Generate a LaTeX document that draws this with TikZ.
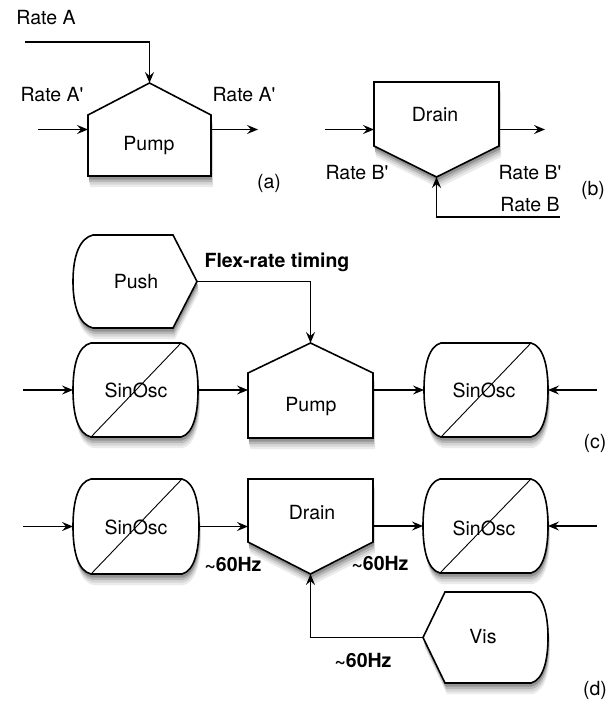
\documentclass[tikz,border=0pt]{standalone}
\usepackage{fontspec}
\setmainfont{TeX Gyre Heros}[Ligatures=TeXOff]
\usetikzlibrary{arrows.meta,calc}
\begin{document}
\begin{tikzpicture}[x=1pt,y=-1pt,
  every node/.style={font=\fontsize{19.5}{22}\selectfont},
  txt/.style={inner sep=0pt},
  btxt/.style={inner sep=0pt,font=\fontsize{19.5}{22}\selectfont\bfseries},
  hold/.style 2 args={inner sep=0pt,outer sep=0pt,minimum width=#1,minimum height=#2},
  outline/.style={draw,line width=1.6pt,fill=white,line join=miter},
  sh1/.style={fill=black!8},
  sh2/.style={fill=black!16},
  sh3/.style={fill=black!28},
  sh4/.style={fill=black!42},
  slash/.style={line width=0.9pt},
  arr/.style={line width=1.4pt,-{Stealth[length=11pt,width=9pt,inset=4pt]}},
]
\useasboundingbox (0,0) rectangle (615,702);

% ---------- frames (invisible nodes giving anchors) ----------
\node[hold={123pt}{93pt}] (pa) at (149.5,129.5) {};
\node[hold={125pt}{95pt}] (db) at (436.5,129.5) {};
\node[hold={124pt}{93pt}] (pu) at (135,281.5) {};
\node[hold={125pt}{94pt}] (sc1) at (135.5,390) {};
\node[hold={125pt}{95pt}] (pc) at (310.5,390.5) {};
\node[hold={124pt}{94pt}] (sc2) at (486,390) {};
\node[hold={126pt}{95pt}] (sd1) at (136,526.5) {};
\node[hold={125pt}{95pt}] (dd) at (310.5,526.5) {};
\node[hold={125pt}{94pt}] (sd2) at (485.5,526) {};
\node[hold={125pt}{91pt}] (vis) at (485.5,637.5) {};

% ---------- shadows (drawn as offset copies) ----------
\foreach \dx/\dy/\st in {2/11/sh1, 1.6/8.5/sh2, 1.2/6/sh3, 0.8/3.5/sh4}{
  \begin{scope}[shift={(\dx,\dy)}]
    \path[\st] (88,176) -- (88,115) -- (149.5,83) -- (211,115) -- (211,176) -- cycle;
    \path[\st] (374,82) -- (499,82) -- (499,146) -- (436.5,177) -- (374,146) -- cycle;
    \path[\st] (93,235) -- (173,235) -- (197,281.5) -- (173,328) -- (93,328)
      .. controls (80,325) and (73,308) .. (73,281.5)
      .. controls (73,255) and (80,238) .. (93,235) -- cycle;
    \path[\st] (91,343) -- (181,343) .. controls (193,346) and (198,365) .. (198,390)
      .. controls (198,415) and (193,434) .. (181,437) -- (91,437)
      .. controls (78,434) and (73,415) .. (73,390)
      .. controls (73,365) and (78,346) .. (91,343) -- cycle;
    \path[\st] (248,438) -- (248,373) -- (310.5,343) -- (373,373) -- (373,438) -- cycle;
    \path[\st] (441,343) -- (531,343) .. controls (543,346) and (548,365) .. (548,390)
      .. controls (548,415) and (543,434) .. (531,437) -- (441,437)
      .. controls (429,434) and (424,415) .. (424,390)
      .. controls (424,365) and (429,346) .. (441,343) -- cycle;
    \path[\st] (91,479) -- (182,479) .. controls (194,482) and (199,501) .. (199,526.5)
      .. controls (199,552) and (194,571) .. (182,574) -- (91,574)
      .. controls (78,571) and (73,552) .. (73,526.5)
      .. controls (73,501) and (78,482) .. (91,479) -- cycle;
    \path[\st] (248,479) -- (373,479) -- (373,542) -- (310.5,574) -- (248,542) -- cycle;
    \path[\st] (440,479) -- (531,479) .. controls (543,482) and (548,501) .. (548,526)
      .. controls (548,551) and (543,570) .. (531,573) -- (440,573)
      .. controls (428,570) and (423,551) .. (423,526)
      .. controls (423,501) and (428,482) .. (440,479) -- cycle;
    \path[\st] (423,637.5) -- (445,592) -- (531,592) .. controls (543,595) and (548,614) .. (548,637.5)
      .. controls (548,661) and (543,680) .. (531,683) -- (445,683) -- cycle;
  \end{scope}
}

% ---------- outlines ----------
\draw[outline] (88,176) -- (88,115) -- (149.5,83) -- (211,115) -- (211,176) -- cycle;
\draw[outline] (374,82) -- (499,82) -- (499,146) -- (436.5,177) -- (374,146) -- cycle;
\draw[outline] (93,235) -- (173,235) -- (197,281.5) -- (173,328) -- (93,328)
  .. controls (80,325) and (73,308) .. (73,281.5)
  .. controls (73,255) and (80,238) .. (93,235) -- cycle;
\draw[outline] (91,343) -- (181,343) .. controls (193,346) and (198,365) .. (198,390)
  .. controls (198,415) and (193,434) .. (181,437) -- (91,437)
  .. controls (78,434) and (73,415) .. (73,390)
  .. controls (73,365) and (78,346) .. (91,343) -- cycle;
\draw[slash] (91,437) -- (181,343);
\draw[outline] (248,438) -- (248,373) -- (310.5,343) -- (373,373) -- (373,438) -- cycle;
\draw[outline] (441,343) -- (531,343) .. controls (543,346) and (548,365) .. (548,390)
  .. controls (548,415) and (543,434) .. (531,437) -- (441,437)
  .. controls (429,434) and (424,415) .. (424,390)
  .. controls (424,365) and (429,346) .. (441,343) -- cycle;
\draw[slash] (441,437) -- (531,343);
\draw[outline] (91,479) -- (182,479) .. controls (194,482) and (199,501) .. (199,526.5)
  .. controls (199,552) and (194,571) .. (182,574) -- (91,574)
  .. controls (78,571) and (73,552) .. (73,526.5)
  .. controls (73,501) and (78,482) .. (91,479) -- cycle;
\draw[slash] (91,574) -- (182,479);
\draw[outline] (248,479) -- (373,479) -- (373,542) -- (310.5,574) -- (248,542) -- cycle;
\draw[outline] (440,479) -- (531,479) .. controls (543,482) and (548,501) .. (548,526)
  .. controls (548,551) and (543,570) .. (531,573) -- (440,573)
  .. controls (428,570) and (423,551) .. (423,526)
  .. controls (423,501) and (428,482) .. (440,479) -- cycle;
\draw[slash] (440,573) -- (531,479);
\draw[outline] (423,637.5) -- (445,592) -- (531,592) .. controls (543,595) and (548,614) .. (548,637.5)
  .. controls (548,661) and (543,680) .. (531,683) -- (445,683) -- cycle;

% ---------- texts ----------
\node[txt] (tpa) at (149,146) {Pump};
\node[txt] (tdb) at (435,115) {Drain};
\node[txt] (tpu) at (136,282) {Push};
\node[txt] (tsc1) at (136,390) {SinOsc};
\node[txt] (tpc) at (311,407) {Pump};
\node[txt] (tsc2) at (484,390) {SinOsc};
\node[txt] (tsd1) at (136,527) {SinOsc};
\node[txt] (tdd) at (312,513) {Drain};
\node[txt] (tsd2) at (484,528) {SinOsc};
\node[txt] (tvis) at (483,637) {Vis};

\node[txt] (la1) at (46,18) {Rate A};
\node[txt] (la2) at (52,95) {Rate A'};
\node[txt] (la3) at (244,95) {Rate A'};
\node[txt] (la4) at (269,183) {(a)};
\node[txt] (lb1) at (357,173) {Rate B'};
\node[txt] (lb2) at (530,173) {Rate B'};
\node[txt] (lb3) at (530,205) {Rate B};
\node[txt] (lb4) at (593,190) {(b)};
\node[btxt] (lc1) at (277,262) {Flex-rate timing};
\node[txt] (lc2) at (595,443) {(c)};
\node[btxt] (ld1) at (233,564) {{\char"7E}60Hz};
\node[btxt] (ld2) at (380,563) {{\char"7E}60Hz};
\node[btxt] (ld3) at (363,660) {{\char"7E}60Hz};
\node[txt] (ld4) at (595,690) {(d)};

% ---------- free ends ----------
\coordinate (ra) at (25,42);
\coordinate (ain) at (38,129.5);
\coordinate (aout) at (258,129.5);
\coordinate (bin) at (325,129.5);
\coordinate (bout) at (545,129.5);
\coordinate (rb) at (560,217);
\coordinate (cin) at (23,390);
\coordinate (cin2) at (597,390);
\coordinate (din) at (23,526.5);
\coordinate (din2) at (597,526);

% ---------- connectors ----------
\draw[arr] (ra) -| (pa.north);
\draw[arr] (ain) -- (pa.west);
\draw[arr] (pa.east) -- (aout);
\draw[arr] (bin) -- (db.west);
\draw[arr] (db.east) -- (bout);
\draw[arr] (rb) -| (db.south);

\draw[arr] (pu.east) -| (pc.north);
\draw[arr] (cin) -- (sc1.west);
\draw[arr] (sc1.east) -- (pc.west |- sc1.east);
\draw[arr] (pc.east |- sc2.west) -- (sc2.west);
\draw[arr] (cin2) -- (sc2.east);

\draw[arr] (din) -- (sd1.west);
\draw[arr] (sd1.east) -- (dd.west |- sd1.east);
\draw[arr] (dd.east |- sd2.west) -- (sd2.west);
\draw[arr] (din2) -- (sd2.east);
\draw[arr] (vis.west) -| (dd.south);
\end{tikzpicture}
\end{document}
